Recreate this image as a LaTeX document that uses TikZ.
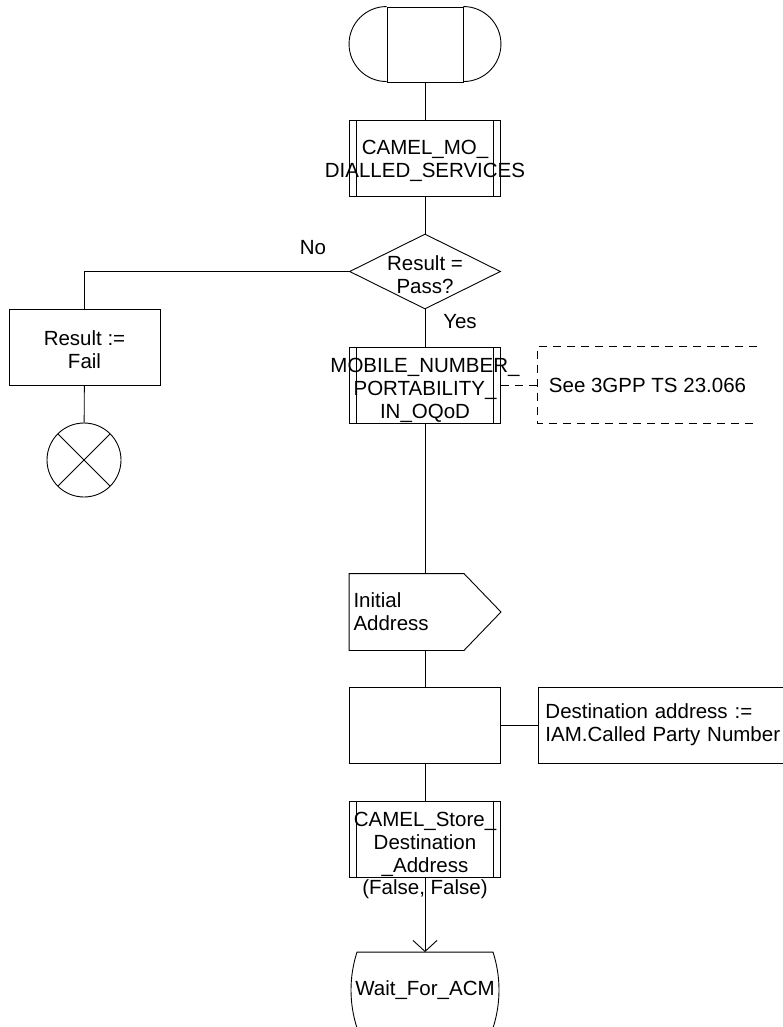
\documentclass[tikz,border=0pt]{standalone}
\usepackage{fontspec}
\setmainfont{Liberation Sans}
\usetikzlibrary{shapes.geometric,arrows.meta}

\begin{document}
\begin{tikzpicture}[x=1pt, y=-1pt, line width=0.9pt,
    font=\fontsize{20.5}{23}\selectfont,
    box/.style={draw, rectangle, minimum width=151pt, minimum height=76pt,
        inner sep=0pt, align=center},
    proc/.style={box, path picture={
        \draw ([xshift=7pt]path picture bounding box.north west)
           -- ([xshift=7pt]path picture bounding box.south west);
        \draw ([xshift=-7pt]path picture bounding box.north east)
           -- ([xshift=-7pt]path picture bounding box.south east);}},
    inside/.style={align=center, inner sep=0pt, yshift=-3pt},
    dashline/.style={dash pattern=on 8pt off 6pt}
]
\useasboundingbox (0,0) rectangle (783,1027);

% start symbol
\node[draw, minimum width=76pt, minimum height=75pt, inner sep=0pt] (start) at (425,44.5) {};
\draw (start.north west) arc[start angle=90, end angle=270, radius=37.5pt];
\draw (start.north east) arc[start angle=90, end angle=-90, radius=37.5pt];

\node[proc, label={[inside]center:{CAMEL\_MO\_\\DIALLED\_SERVICES}}] (mo) at (425,158) {};

\node[draw, diamond, minimum width=151pt, minimum height=75pt, inner sep=0pt,
    label={[inside]center:{Result =\\Pass?}}] (dec) at (425,271.5) {};
\node (no) at (313,248) {No};
\node (yes) at (460,322) {Yes};

% fail branch
\node[box, label={[inside]center:{Result :=\\Fail}}] (fail) at (84.5,347) {};
\node[draw, circle, minimum size=74pt, inner sep=0pt, path picture={
    \draw (path picture bounding box.north west) -- (path picture bounding box.south east)
          (path picture bounding box.north east) -- (path picture bounding box.south west);}]
    (stop) at (84,460) {};

\node[proc, label={[inside, yshift=-2pt]center:{MOBILE\_NUMBER\_\\PORTABILITY\_\\IN\_OQoD}}] (mnp) at (425,385) {};
\node[minimum width=219pt, minimum height=76pt, inner sep=0pt] (note) at (647.5,385) {See 3GPP TS 23.066};
\draw[dashline] (note.north east) -- (note.north west) -- (note.south west) -- (note.south east);

% input signal
\node[minimum width=151pt, minimum height=76pt, text width=143pt, inner sep=4pt, align=left] (ia) at (425,612) {Initial\\Address};
\draw (ia.north west) -- ([xshift=-37pt]ia.north east) -- (ia.east)
   -- ([xshift=-37pt]ia.south east) -- (ia.south west) -- cycle;

\node[box] (task) at (425,725) {};
\node[draw, minimum width=260pt, minimum height=76pt, text width=246pt, inner sep=7pt,
    align=left, anchor=west] (dest) at (538,725) {Destination address :=\\IAM.Called Party Number};

\node[proc, label={[inside, yshift=-2pt]center:{CAMEL\_Store\_\\Destination\\\_Address}},
    label={[inner sep=2pt]below:(False, False)}] (store) at (425,839) {};

% state
\node[minimum height=75pt, inner sep=0pt] (wait) at (425,990) {Wait\_For\_ACM};
\draw ([xshift=-68pt]wait.north) -- ([xshift=68pt]wait.north)
   .. controls +(8,25) and +(8,-25) .. ([xshift=68pt]wait.south)
   -- ([xshift=-68pt]wait.south)
   .. controls +(-8,-25) and +(-8,25) .. cycle;

\draw (start) -- (mo);
\draw (mo) -- (dec);
\draw (dec.west) -| (fail.north);
\draw (fail) -- (stop);
\draw (dec) -- (mnp);
\draw[dashline] (mnp) -- (note);
\draw (mnp) -- (ia);
\draw (ia) -- (task);
\draw (task) -- (dest);
\draw (task) -- (store);
\draw[-{Straight Barb[length=11pt,width=24pt]}] (store) -- (wait);
\end{tikzpicture}
\end{document}
